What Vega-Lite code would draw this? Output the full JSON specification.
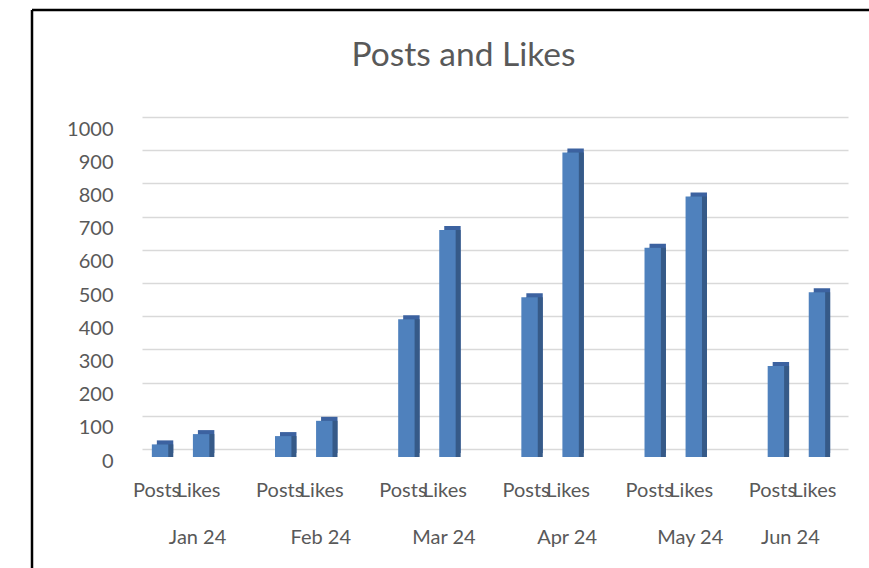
{
  "$schema": "https://vega.github.io/schema/vega-lite/v6.json",
  "autosize": {"type": "none"},
  "width": 837,
  "height": 558,
  "padding": {"left": 32, "top": 10, "right": 0, "bottom": 0},
  "background": "#ffffff",
  "config": {
    "font": "Lato",
    "view": {"stroke": "#000000", "strokeWidth": 2.5, "strokeDash": [837, 1395, 558, 0]},
    "axis": {"labelFont": "Lato", "labelFontSize": 20, "labelColor": "#595959", "title": null}
  },
  "title": {
    "text": "Posts and Likes",
    "font": "Lato",
    "fontSize": 33.5,
    "fontWeight": "normal",
    "color": "#595959",
    "baseline": "alphabetic",
    "offset": -89,
    "dx": 13
  },
  "data": {
    "values": [
      {"month": "Jan 24", "series": "Posts", "value": 38},
      {"month": "Jan 24", "series": "Likes", "value": 69},
      {"month": "Feb 24", "series": "Posts", "value": 63},
      {"month": "Feb 24", "series": "Likes", "value": 109},
      {"month": "Mar 24", "series": "Posts", "value": 415},
      {"month": "Mar 24", "series": "Likes", "value": 684},
      {"month": "Apr 24", "series": "Posts", "value": 481},
      {"month": "Apr 24", "series": "Likes", "value": 917},
      {"month": "May 24", "series": "Posts", "value": 630},
      {"month": "May 24", "series": "Likes", "value": 785},
      {"month": "Jun 24", "series": "Posts", "value": 274},
      {"month": "Jun 24", "series": "Likes", "value": 496}
    ]
  },
  "layer": [
    {
      "mark": {"type": "bar", "color": "#3C62A0", "yOffset": 4, "y2Offset": 4},
      "encoding": {
        "x": {
          "field": "month", "type": "nominal", "sort": null,
          "scale": {"range": [87, 826], "paddingInner": 0, "paddingOuter": 0},
          "axis": {"orient": "bottom", "offset": -78, "labelExpr": "'Posts'", "labelOffset": -24, "labelBaseline": "middle", "labelPadding": 0, "ticks": false, "domain": false, "grid": false, "labelAngle": 0}
        },
        "xOffset": {"field": "series", "type": "nominal", "sort": ["Posts", "Likes"], "scale": {"range": [5, 128.17], "paddingInner": 0.6, "paddingOuter": 0.8}},
        "y": {
          "field": "value", "type": "quantitative",
          "scale": {"domain": [0, 1000], "range": [439, 107], "nice": false, "zero": true},
          "axis": {"orient": "left", "offset": -110, "values": [0, 100, 200, 300, 400, 500, 600, 700, 800, 900, 1000], "format": "d", "grid": false, "domain": false, "tickSize": -706, "tickColor": "#D9D9D9", "tickWidth": 1.6, "labelPadding": 735, "labelOffset": 12, "labelBaseline": "middle"}
        }
      }
    },
    {
      "mark": {"type": "bar", "color": "#365A88", "yOffset": 8, "y2Offset": 4},
      "encoding": {
        "x": {
          "field": "month", "type": "nominal", "sort": null,
          "axis": {"orient": "bottom", "offset": -78, "labelExpr": "'Likes'", "labelOffset": 18, "labelBaseline": "middle", "labelPadding": 0, "ticks": false, "domain": false, "grid": false, "labelAngle": 0}
        },
        "xOffset": {"field": "series", "type": "nominal", "sort": ["Posts", "Likes"], "scale": {"range": [5, 128.17], "paddingInner": 0.6, "paddingOuter": 0.8}},
        "y": {"field": "value", "type": "quantitative"}
      }
    },
    {
      "mark": {"type": "bar", "color": "#4F81BD", "yOffset": 8, "y2Offset": 8},
      "encoding": {
        "x": {
          "field": "month", "type": "nominal", "sort": null,
          "axis": {"orient": "bottom", "offset": -31, "labelOffset": {"condition": {"test": "datum.value === 'Jun 24'", "value": -6}, "value": 17}, "labelBaseline": "middle", "labelPadding": 0, "ticks": false, "domain": false, "grid": false, "labelAngle": 0}
        },
        "xOffset": {"field": "series", "type": "nominal", "sort": ["Posts", "Likes"], "scale": {"range": [0, 123.17], "paddingInner": 0.6, "paddingOuter": 0.8}},
        "y": {"field": "value", "type": "quantitative"}
      }
    }
  ],
  "resolve": {"axis": {"x": "independent"}, "scale": {"xOffset": "independent"}}
}
